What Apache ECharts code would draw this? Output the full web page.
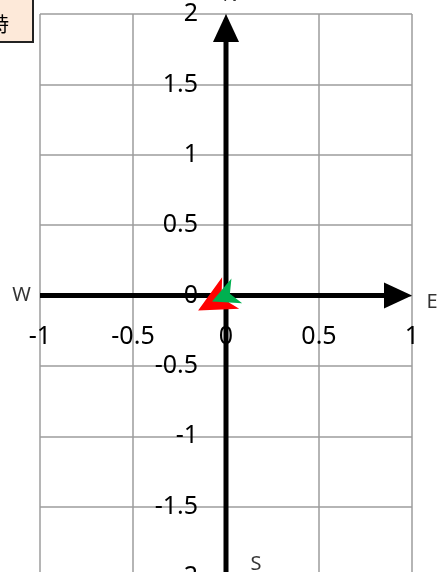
<!DOCTYPE html>
<html>
<head>
<meta charset="utf-8">
<script src="https://cdn.jsdelivr.net/npm/echarts@6/dist/echarts.min.js"></script>
<style>
  html, body { margin: 0; padding: 0; background: #fff; }
  #chart { width: 447px; height: 572px; }
</style>
</head>
<body>
<div id="chart"></div>
<script>
// axis ranges
const xRange = [-1, 1];
const yRange = [-2, 2];
const tickStep = 0.5;

// compass axes: [x0, y0, x1, y1] in data units, arrow at the end
const compassAxes = [
  [-1, 0, 1, 0],
  [0, -2, 0, 2]
];
// compass letters and where they sit (data units)
const compassNames = ['N', 'E', 'S', 'W'];
const compassX = [0.022, 1.108, 0.161, -1.099];
const compassY = [2.135, -0.046, -1.908, 0];

// wind vectors (u, v) drawn from origin
const vectorNames = ['A', 'B'];
const vectorU = [-0.15, -0.075];
const vectorV = [-0.107, -0.043];

// styles
const vectorColors = ['#ff0000', '#00b050'];
const vectorHead = [37, 27];   // arrowhead length in px
const vectorHalf = [18, 13.5]; // arrowhead half width in px

const font = 'Noto Sans';
const gridBox = { left: 40, top: 14, width: 372, height: 563 };
const chart = echarts.init(document.getElementById('chart'));

// labels sit on the zero lines: move axes there with offset
const xZeroPx = gridBox.width * (0 - xRange[0]) / (xRange[1] - xRange[0]);
const yZeroPx = gridBox.height * (yRange[1] - 0) / (yRange[1] - yRange[0]);

const option = {
  animation: false,
  title: {
    text: '日時',
    left: -35, top: -3,
    padding: [17, 24, 8, 4],
    backgroundColor: '#fde9d9',
    borderColor: '#222',
    borderWidth: 2,
    textStyle: { fontSize: 20, lineHeight: 20, fontWeight: 'normal', color: '#000', fontFamily: 'Noto Sans CJK JP' }
  },
  grid: Object.assign({ outerBoundsMode: 'none', containLabel: false }, gridBox),
  xAxis: {
    type: 'value',
    position: 'bottom',
    offset: -(gridBox.height - yZeroPx),
    min: xRange[0], max: xRange[1], interval: tickStep,
    axisLine: { show: false, onZero: false },
    axisTick: { show: false },
    axisLabel: { color: '#000', fontSize: 25, fontFamily: font, margin: 29, showMinLabel: true, showMaxLabel: true },
    splitLine: { show: true, lineStyle: { color: '#9c9c9c', width: 1.5 } }
  },
  yAxis: {
    type: 'value',
    position: 'left',
    offset: -xZeroPx,
    min: yRange[0], max: yRange[1], interval: tickStep,
    axisLine: { show: false, onZero: false },
    axisTick: { show: false },
    axisLabel: { color: '#000', fontSize: 25, fontFamily: font, margin: 28, showMinLabel: true, showMaxLabel: true },
    splitLine: { show: true, lineStyle: { color: '#9c9c9c', width: 1.5 } }
  },
  series: [
    {
      name: 'axes',
      type: 'custom',
      clip: false,
      z: 5,
      data: compassAxes,
      renderItem: function (params, api) {
        const a = api.coord([api.value(0), api.value(1)]);
        const b = api.coord([api.value(2), api.value(3)]);
        const dx = b[0] - a[0], dy = b[1] - a[1];
        const L = Math.hypot(dx, dy);
        const ux = dx / L, uy = dy / L, px = -uy, py = ux;
        const head = 28, half = 13;
        const base = [b[0] - ux * head, b[1] - uy * head];
        return {
          type: 'group',
          children: [
            {
              type: 'line',
              shape: { x1: a[0], y1: a[1], x2: base[0] + ux * 2, y2: base[1] + uy * 2 },
              style: { stroke: '#000', lineWidth: 5 }
            },
            {
              type: 'polygon',
              shape: { points: [b, [base[0] + px * half, base[1] + py * half], [base[0] - px * half, base[1] - py * half]] },
              style: { fill: '#000' }
            }
          ]
        };
      }
    },
    {
      name: 'compass',
      type: 'scatter',
      clip: false,
      z: 6,
      symbolSize: 1,
      itemStyle: { color: 'rgba(0,0,0,0)' },
      silent: true,
      data: compassNames.map(function (n, i) { return { name: n, value: [compassX[i], compassY[i]] }; }),
      label: {
        show: true,
        position: 'inside',
        formatter: '{b}',
        color: '#000',
        fontSize: 20,
        fontFamily: font
      }
    },
    {
      name: 'wind',
      type: 'custom',
      clip: false,
      z: 10,
      data: vectorU.map(function (u, i) { return [u, vectorV[i], vectorNames[i]]; }),
      renderItem: function (params, api) {
        const i = params.dataIndex;
        const o = api.coord([0, 0]);
        const t = api.coord([api.value(0), api.value(1)]);
        const dx = t[0] - o[0], dy = t[1] - o[1];
        const L = Math.hypot(dx, dy);
        const ux = dx / L, uy = dy / L, px = -uy, py = ux;
        const len = vectorHead[i], hw = vectorHalf[i], nd = len * 0.72;
        const w1 = [t[0] - ux * len + px * hw, t[1] - uy * len + py * hw];
        const w2 = [t[0] - ux * len - px * hw, t[1] - uy * len - py * hw];
        const n = [t[0] - ux * nd, t[1] - uy * nd];
        return {
          type: 'polygon',
          shape: { points: [t, w1, n, w2] },
          style: { fill: vectorColors[i] }
        };
      }
    }
  ]
};

chart.setOption(option);
</script>
</body>
</html>
